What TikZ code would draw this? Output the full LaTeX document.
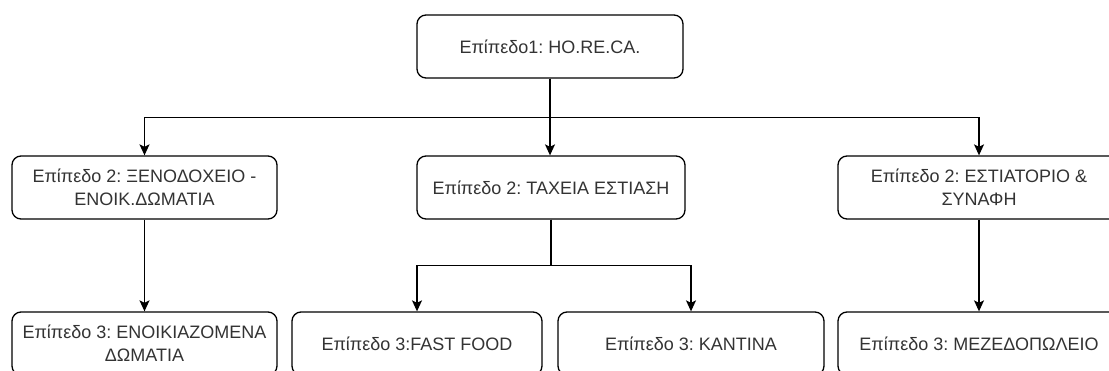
\documentclass[tikz,border=0pt]{standalone}
\usepackage{fontspec}
\setmainfont{Liberation Sans}
\usetikzlibrary{arrows.meta}
\definecolor{txt}{HTML}{333333}
\frenchspacing
\tikzset{
  box/.style={draw=black, line width=1.3pt, rounded corners=9pt, fill=white,
    minimum height=63pt, inner sep=0pt, align=center, text=txt,
    font=\fontsize{18}{23}\selectfont},
  arr/.style={draw=black, line width=1.3pt,
    -{Stealth[length=11pt,width=10pt,inset=2.5pt]}}
}
\begin{document}
\begin{tikzpicture}[x=1pt,y=1pt]
\useasboundingbox (0,0) rectangle (1109,-370);
\clip (0,0) rectangle (1109,-370);
\fill[white] (0,0) rectangle (1109,-370);

% level 1
\node[box, minimum width=266pt] (top) at (550,-46.5) {Επίπεδο1: HO.RE.CA.};

% level 2
\node[box, minimum width=265pt] (hotel) at (144.5,-187.5) {Επίπεδο 2: ΞΕΝΟΔΟΧΕΙΟ -\\ΕΝΟΙΚ.ΔΩΜΑΤΙΑ};
\node[box, minimum width=268pt] (fast) at (551,-187.5) {Επίπεδο 2: ΤΑΧΕΙΑ ΕΣΤΙΑΣΗ};
\node[box, minimum width=282pt] (rest) at (979,-187.5) {Επίπεδο 2: ΕΣΤΙΑΤΟΡΙΟ \&\\ΣΥΝΑΦΗ};

% level 3
\node[box, minimum width=265pt] (rooms) at (144.5,-343.5) {Επίπεδο 3: ΕΝΟΙΚΙΑΖΟΜΕΝΑ\\ΔΩΜΑΤΙΑ};
\node[box, minimum width=250pt] (ff) at (417,-343.5) {Επίπεδο 3:FAST FOOD};
\node[box, minimum width=266pt] (kantina) at (691,-343.5) {Επίπεδο 3: ΚΑΝΤΙΝΑ};
\node[box, minimum width=282pt] (meze) at (979,-343.5) {Επίπεδο 3: ΜΕΖΕΔΟΠΩΛΕΙΟ};

% connectors from level 1
\draw[arr] (top.south) -- ++(0,-39) -| (hotel.north);
\draw[arr] (top.south) -- (top.south |- fast.north);
\draw[arr] (top.south) -- ++(0,-39) -| (rest.north);

% connectors from level 2
\draw[arr] (hotel.south) -- (rooms.north);
\draw[arr] (fast.south) -- ++(0,-46) -| (ff.north);
\draw[arr] (fast.south) -- ++(0,-46) -| (kantina.north);
\draw[arr] (rest.south) -- (meze.north);
\end{tikzpicture}
\end{document}
